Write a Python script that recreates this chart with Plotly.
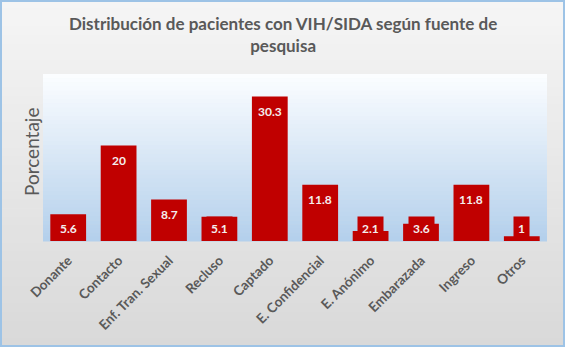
import plotly.graph_objects as go

categories = ["Donante", "Contacto", "Enf. Tran. Sexual", "Recluso", "Captado",
              "E. Confidencial", "E. Anónimo", "Embarazada", "Ingreso", "Otros"]
values = [5.6, 20, 8.7, 5.1, 30.3, 11.8, 2.1, 3.6, 11.8, 1]
value_labels = ["5.6", "20", "8.7", "5.1", "30.3", "11.8", "2.1", "3.6", "11.8", "1"]

title_text = "Distribución de pacientes con VIH/SIDA según fuente de<br>pesquisa"
y_title = "Porcentaje"

BAR = "#c00000"
TXT = "#595959"
FONT = "Lato"

fig = go.Figure()
fig.add_trace(go.Bar(x=categories, y=values, marker=dict(color=BAR, line=dict(width=0)),
                     hoverinfo="x+y"))

def lerp(c1, c2, t):
    return "#%02x%02x%02x" % tuple(int(round(a + (b - a) * t)) for a, b in zip(c1, c2))

H = 347.0
pt, pb = 74.0, 241.0
def p(ypx):
    return (pb - ypx) / (pb - pt)

shapes = []
# outer background gradient
N = 40
top_o, bot_o = (0xf5, 0xf5, 0xf5), (0xd9, 0xd9, 0xd9)
for i in range(N):
    y0px = H * i / N
    y1px = H * (i + 1) / N + 0.6
    shapes.append(dict(type="rect", xref="paper", yref="paper",
                       x0=-43 / 504.0, x1=(565 - 43) / 504.0,
                       y0=p(y1px), y1=p(y0px), line=dict(width=0),
                       fillcolor=lerp(top_o, bot_o, i / (N - 1)), layer="below"))
# plot area gradient
top_p, bot_p = (0xfb, 0xfd, 0xff), (0xb4, 0xd0, 0xec)
for i in range(N):
    shapes.append(dict(type="rect", xref="x domain", yref="y domain",
                       x0=0, x1=1, y0=1 - (i + 1) / N - 0.003, y1=1 - i / N,
                       line=dict(width=0),
                       fillcolor=lerp(top_p, bot_p, i / (N - 1)), layer="below"))
# outer border
shapes.append(dict(type="rect", xref="paper", yref="paper",
                   x0=(1 - 43) / 504.0, x1=(564 - 43) / 504.0, y0=p(346), y1=p(1),
                   line=dict(color="#9dc3e6", width=2), fillcolor="rgba(0,0,0,0)"))

# data labels: inside end, kept above the baseline
units_per_px = 35.0 / (pb - pt)
annotations = []
for c, v, lab in zip(categories, values, value_labels):
    ypos = max(v - 15 * units_per_px, 13 * units_per_px)
    annotations.append(dict(x=c, y=ypos, xref="x", yref="y", text="<b>%s</b>" % lab,
                            showarrow=False, bgcolor=BAR, borderpad=4,
                            font=dict(family=FONT, size=12, color="#f4eeee"),
                            xanchor="center", yanchor="middle"))

annotations.append(dict(text=y_title, textangle=-90, xref="paper", yref="paper",
                        x=(31 - 43) / 504.0, y=p(152), xanchor="center", yanchor="middle",
                        showarrow=False, font=dict(family=FONT, size=19, color=TXT)))

annotations.append(dict(text="<b>%s</b>" % title_text, xref="paper", yref="paper",
                        x=(283 - 43) / 504.0, y=p(34), xanchor="center", yanchor="middle",
                        showarrow=False, align="center",
                        font=dict(family=FONT, size=17, color=TXT)))

fig.update_layout(
    width=565, height=347,
    margin=dict(l=43, r=18, t=74, b=106),
    paper_bgcolor="#e6e6e6", plot_bgcolor="rgba(0,0,0,0)",
    bargap=0.29,
    showlegend=False,
    shapes=shapes,
    annotations=annotations,
    xaxis=dict(tickangle=-45, showgrid=False, showline=False, ticks="",
               ticklabelstandoff=8,
               tickfont=dict(family=FONT, size=13.5, color=TXT), automargin=False),
    yaxis=dict(range=[0, 35], showticklabels=False, showgrid=False, zeroline=False,
               showline=False, ticks="", automargin=False),
)
fig.update_xaxes(tickprefix="<b>", ticksuffix="</b>")

fig.write_html("out.html")
